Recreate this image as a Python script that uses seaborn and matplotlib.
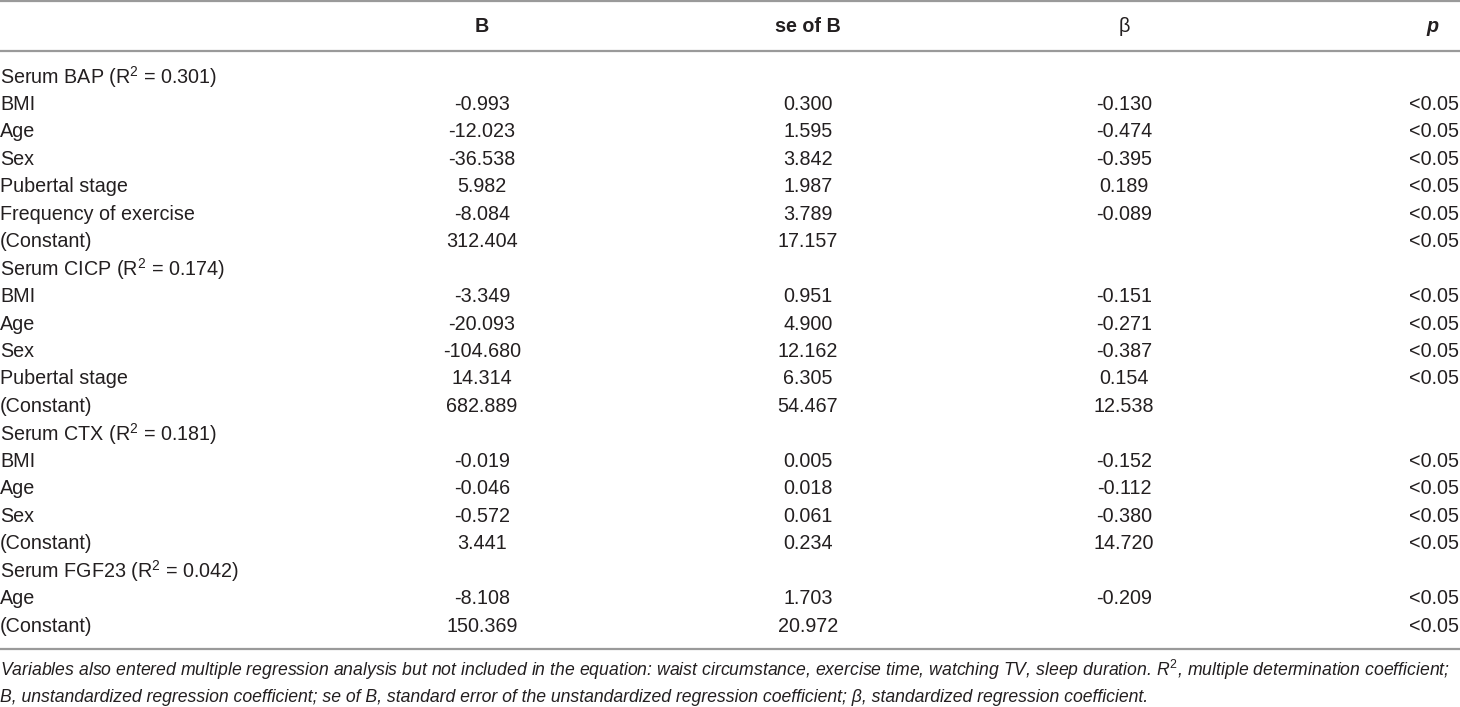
import matplotlib
matplotlib.use("Agg")
import matplotlib.pyplot as plt
import seaborn as sns
import pandas as pd

sns.set_theme(style="white")
plt.rcParams['font.family'] = ['Liberation Sans', 'DejaVu Sans']
plt.rcParams['mathtext.fontset'] = 'custom'
plt.rcParams['mathtext.rm'] = 'Liberation Sans'
plt.rcParams['mathtext.it'] = 'Liberation Sans:italic'
plt.rcParams['mathtext.bf'] = 'Liberation Sans:bold'

headers = ["B", "se of B", "β", "p"]
row_labels = [
    "Serum BAP (R$^2$ = 0.301)", "BMI", "Age", "Sex", "Pubertal stage",
    "Frequency of exercise", "(Constant)",
    "Serum CICP (R$^2$ = 0.174)", "BMI", "Age", "Sex", "Pubertal stage", "(Constant)",
    "Serum CTX (R$^2$ = 0.181)", "BMI", "Age", "Sex", "(Constant)",
    "Serum FGF23 (R$^2$ = 0.042)", "Age", "(Constant)",
]
b_values = ["", "-0.993", "-12.023", "-36.538", "5.982", "-8.084", "312.404",
            "", "-3.349", "-20.093", "-104.680", "14.314", "682.889",
            "", "-0.019", "-0.046", "-0.572", "3.441",
            "", "-8.108", "150.369"]
se_values = ["", "0.300", "1.595", "3.842", "1.987", "3.789", "17.157",
             "", "0.951", "4.900", "12.162", "6.305", "54.467",
             "", "0.005", "0.018", "0.061", "0.234",
             "", "1.703", "20.972"]
beta_values = ["", "-0.130", "-0.474", "-0.395", "0.189", "-0.089", "",
               "", "-0.151", "-0.271", "-0.387", "0.154", "12.538",
               "", "-0.152", "-0.112", "-0.380", "14.720",
               "", "-0.209", ""]
p_values = ["", "<0.05", "<0.05", "<0.05", "<0.05", "<0.05", "<0.05",
            "", "<0.05", "<0.05", "<0.05", "<0.05", "",
            "", "<0.05", "<0.05", "<0.05", "<0.05",
            "", "<0.05", "<0.05"]
footnote = [
    "Variables also entered multiple regression analysis but not included in the equation: waist circumstance, exercise time, watching TV, sleep duration. $R^2$, multiple determination coefficient;",
    "B, unstandardized regression coefficient; se of B, standard error of the unstandardized regression coefficient; β, standardized regression coefficient.",
]

df = pd.DataFrame({"label": row_labels, "B": b_values, "se": se_values,
                   "beta": beta_values, "p": p_values})

W, H = 1460, 707
fig = plt.figure(figsize=(W / 100, H / 100), dpi=100)
ax = fig.add_axes([0, 0, 1, 1])
ax.set_xlim(0, W)
ax.set_ylim(H, 0)
ax.axis("off")

fs = 14.2
txt = "#231f20"
rule = "#9a9a9a"
row0, dy = 77, 27.45
col_x = {"B": 482, "se": 808, "beta": 1124}
p_right = 1459

# rules
for yy in (1, 51, 649):
    ax.plot([0, W], [yy, yy], color=rule, lw=1.6, solid_capstyle="butt")

# header
hy = 27
ax.text(col_x["B"], hy, headers[0], ha="center", va="center", fontsize=fs, fontweight="bold", color=txt)
ax.text(col_x["se"], hy, headers[1], ha="center", va="center", fontsize=fs, fontweight="bold", color=txt)
ax.text(col_x["beta"], hy, headers[2], ha="center", va="center", fontsize=fs, color=txt)
ax.text(1433, hy, headers[3], ha="center", va="center", fontsize=fs, fontweight="bold", fontstyle="italic", color=txt)

for i, r in df.iterrows():
    y = row0 + i * dy
    ax.text(0, y, r["label"], ha="left", va="center", fontsize=fs, color=txt)
    ax.text(col_x["B"], y, r["B"], ha="center", va="center", fontsize=fs, color=txt)
    ax.text(col_x["se"], y, r["se"], ha="center", va="center", fontsize=fs, color=txt)
    ax.text(col_x["beta"], y, r["beta"], ha="center", va="center", fontsize=fs, color=txt)
    ax.text(p_right, y, r["p"], ha="right", va="center", fontsize=fs, color=txt)

for k, line in enumerate(footnote):
    ax.text(0, 670 + k * 27, line, ha="left", va="center", fontsize=12.7,
            fontstyle="italic", color=txt)

fig.savefig("out.png", dpi=100)
